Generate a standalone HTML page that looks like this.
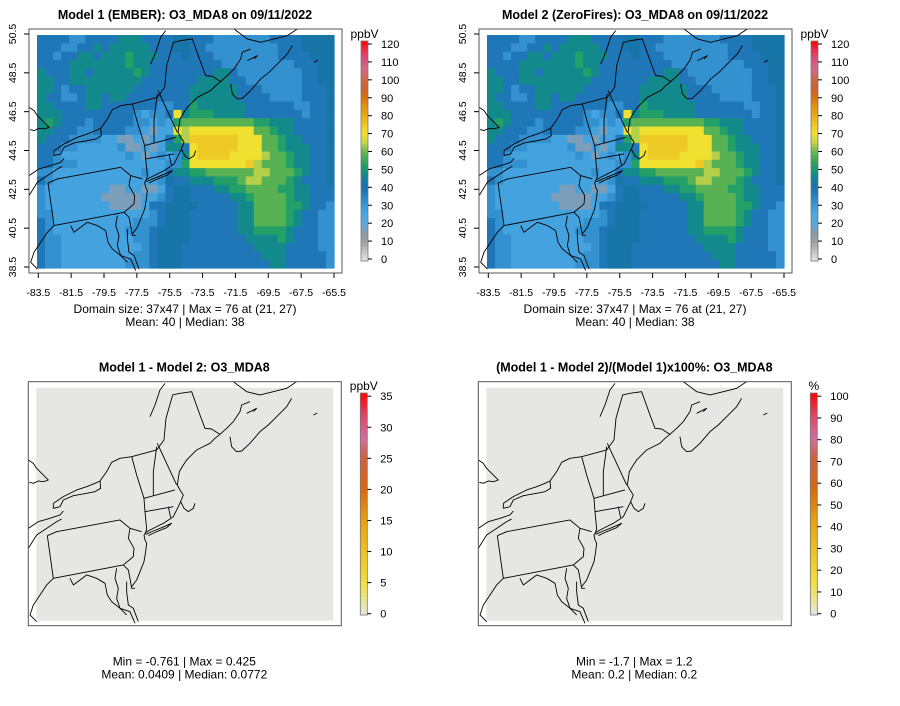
<!DOCTYPE html>
<html><head><meta charset="utf-8">
<style>
html,body{margin:0;padding:0;background:#fff;}
svg{display:block;font-family:"Liberation Sans",sans-serif;}
</style></head>
<body>
<svg id="fig" width="900" height="706" viewBox="0 0 900 706"></svg>
<script>
// ===== data =====
const lonTicks = [-83.5,-81.5,-79.5,-77.5,-75.5,-73.5,-71.5,-69.5,-67.5,-65.5];
const latTicks = [38.5,40.5,42.5,44.5,46.5,48.5,50.5];
const o3Ticks = [0,10,20,30,40,50,60,70,80,90,100,110,120];
const diffTicks = [0,5,10,15,20,25,30,35];
const pctTicks = [0,10,20,30,40,50,60,70,80,90,100];
const levelCodes = ['g','l','m','b','d','t','e','G','Y','y','o'];
const levelValues = [17,27,32,38,42,47,52,58,64,70,74];
const gridRows = [
"bbbbmmbbbbtttbbbbddbbbmmmmmmmbbbbdddd",
"bbbmmbbtbtttttbbbddbbmmmmmmmmmbbbdddd",
"bbmbbttbtttetttbbbdbbbmmmmmmmmbbbbddd",
"bbbbtttttttettbbbbbbbbbmmmmmmmmmbbbdd",
"tbbbttbtttttetbbbbbbbbttbmmmmmmmmbbdd",
"ttbbtttttttttbbbbbbbttttbbmmmmmmmbbdd",
"ttbmbbttttttbbbbbbbttttttbbbmmmmmbbbd",
"tbbmmbttbttbbbbbbbbttttttbbbbmmmmbbbd",
"ttbbbbttbbbbbbbmmbbettttttbbbbbbmmbbd",
"tttbbbbbbbbbmlmmbyteeettttbbbbbbbmbbd",
"tetbbbmbbbbbmmlmleGGGGGGGGGeetttbbbbd",
"ttbbbmmbbbbmmlgllyYyyyyyyyyGGettbbbbd",
"tbbbmmmmllgglgllbeYooooooyyyGGettbbbd",
"bbbmmlllllmgglglttbyoooooyyyGGetttbbd",
"bbmllllllllmlglmlmtyooooyyyyYGGettbbd",
"bbmmmlllllllllllmmeyyyyyyyoYGGGettbbd",
"mmlllllllllllmllbtteeGGGGGGYYGGGetbbd",
"bmlllllllllllllmdbbttteeeGYYGGGetbbbd",
"mllllllllggllgglbddbbbtteeGGGGeettbbb",
"mlllllllgggggllmbddbbbbbtteGGGGettbbb",
"mllllllllgggglbbddddbbbbbttGGGGeetbbm",
"mmllllllllllllmbdddbbbbbbttGGGGetbbmm",
"bmllllllllllmmmbdddbbbbbbttGGGGetbbmm",
"bmlllllllllmmmbddddbbbbbbtteeeetbbbmm",
"bmmlllllllllmmbddddbbbbbbbttttetbbbmm",
"bmmllllllllllmbdddbbbbbbbbbttttbbbbmm",
"bmmlllllllllmmbdddbbbbbbbbbbtttbbbbbm",
"bmmllllllllmmmbdddbbbbbbbbbbbttbbbbbm"
];
const diffValue = 0.04;
const pctValue = 0.2;
const o3StopsV = [0,5,10,15,20,25,30,35,40,45,50,55,60,65,70,75,80,85,90,95,100,105,110,115,120];
const o3StopsC = ['#e6e6e6','#c6c6c6','#a2a2a2','#8f9aa6','#5ea6d8','#4aa9e4','#3a9ad8','#2884c4','#1a6fb0','#127f9c','#129a72','#3aa858','#6cb852','#c6d648','#f0e030','#eec424','#e8a812','#e09010','#d86a10','#d06232','#cc6850','#d06a86','#d85080','#e83050','#ff0000'];
const dStopsF = [0,0.14,0.29,0.43,0.57,0.71,0.8,0.91,1];
const dStopsC = ['#e6e6e6','#f0e040','#eec024','#e8a010','#d86810','#d06040','#d070a0','#e04060','#ff0000'];

// ===== helpers =====
const NS='http://www.w3.org/2000/svg';
const svg=document.getElementById('fig');
function mk(tag,attrs,parent){const e=document.createElementNS(NS,tag);for(const k in attrs)e.setAttribute(k,attrs[k]);(parent||svg).appendChild(e);return e;}
function hex(c){return [parseInt(c.substr(1,2),16),parseInt(c.substr(3,2),16),parseInt(c.substr(5,2),16)];}
function interp(v,vs,cs){
  if(v<=vs[0])return cs[0]; if(v>=vs[vs.length-1])return cs[cs.length-1];
  for(let i=0;i<vs.length-1;i++){if(v>=vs[i]&&v<=vs[i+1]){const t=(v-vs[i])/(vs[i+1]-vs[i]);const a=hex(cs[i]),b=hex(cs[i+1]);return 'rgb('+a.map((x,j)=>Math.round(x+(b[j]-x)*t)).join(',')+')';}}
}
function codeVal(ch){const i=levelCodes.indexOf(ch);return levelValues[i<0?3:i];}

// ===== map outlines (reference-pixel coords at 3x) =====
const outlines=[
"25,255 40,265 50,280 60,290 75,305 85,315 70,320 55,318 40,325 28,322",
"100,385 130,365 170,345 200,335 225,325 240,318 242,340 225,350 200,355 160,362 130,375 120,395 100,400 100,385",
"240,318 260,290 275,262 300,250 335,245 410,225",
"25,460 55,440 90,430 120,420 130,408",
"25,520 50,480 80,460 110,440 125,432",
"82,482 110,470 300,435 330,460 365,470",
"82,482 100,610 310,570",
"310,570 340,545 342,520 325,490 330,460",
"335,245 350,300 372,370 375,410 380,462 375,478",
"372,370 465,345",
"375,410 460,395",
"445,395 452,428",
"410,215 400,290 400,362",
"412,205 470,330",
"410,225 432,195 438,130 458,60 480,55 515,50 540,120 555,160 575,162 600,178",
"600,178 585,190 570,205 550,215 530,225 515,240 500,255 490,270 478,290 472,330 480,345 490,360 482,380 492,400 505,410 520,400 525,385",
"482,380 470,405 460,425 450,432 430,445 410,455 390,465 378,472 372,480 375,495 380,505 377,530 372,560 360,590 350,615 335,635",
"378,478 400,468 425,458 455,445 440,458 410,470 385,482",
"310,570 325,585 330,610 335,640 345,640",
"320,620 320,650 325,690 340,700 355,740",
"290,580 285,610 295,640 290,670 300,700 320,720",
"150,610 160,630 200,600 230,610 255,625 262,660 275,680 300,700 330,710 345,745",
"100,610 80,630 60,660 40,690 30,720 50,740",
"390,125 405,90 420,45 435,25",
"600,178 620,160 640,140 660,110 665,90 690,80",
"640,20 680,50 720,60 760,50 800,40 830,20",
"630,185 635,215 650,230 665,228 690,205 720,170 745,150 770,125 800,95 815,70",
"680,115 710,100 700,110",
"880,120 892,114"
];

// ===== panel builder =====
function panel(ox, oy, opts){
  const g=mk('g',{transform:'translate('+ox+','+oy+')'});
  
  
  const bx0=29,bx1=342,by0=29,by1=273;
  const rx0=37,rx1=334,ry0=35,ry1=268;
  const cid='clip'+opts.id;
  const cp=mk('clipPath',{id:cid},g); mk('rect',{x:bx0,y:by0,width:bx1-bx0,height:by1-by0},cp);
  const t=mk('text',{x:185,y:19,'text-anchor':'middle','font-size':12.5,'font-weight':'bold',fill:'#000'},g);
  t.textContent=opts.title;
  
  
  const rg=mk('g',{},g);
  
  
  if(opts.raster){
    const nr=gridRows.length,nc=37;const cw=(rx1-rx0)/nc,ch=(ry1-ry0)/nr;
    for(let r=0;r<nr;r++){for(let c=0;c<nc;c++){
      const v=codeVal(gridRows[r][c]||gridRows[r][gridRows[r].length-1]);
      const cell=mk('rect',{x:(rx0+c*cw).toFixed(2),y:(ry0+r*ch).toFixed(2),width:(cw+0.6).toFixed(2),height:(ch+0.6).toFixed(2),fill:interp(v,o3StopsV,o3StopsC)},rg);
      
      
    }}
  } else {
    const c=interp(opts.flat/opts.max,dStopsF,dStopsC);
    const cell=mk('rect',{x:rx0,y:ry0,width:rx1-rx0,height:ry1-ry0,fill:c},rg);
    
    
  }
  const og=mk('g',{'clip-path':'url(#'+cid+')'},g);
  const inner=mk('g',{transform:'translate(20.7,22.3) scale(0.3333)'},og);
  
  
  outlines.forEach(p=>{const pl=mk('polyline',{points:p,fill:'none',stroke:'#000','stroke-width':0.9,'vector-effect':'non-scaling-stroke','stroke-linejoin':'round'},inner);
    
    });
  const box=mk('rect',{x:bx0,y:by0,width:bx1-bx0,height:by1-by0,fill:'none',stroke:'#555','stroke-width':1},g);
  
  
  if(opts.axes){
    const xs=lon=>38.3+(lon+83.5)*(334-38.3)/18;
    const ys=lat=>34+(50.5-lat)*(267-34)/12;
    const ax=mk('g',{},g);
    
    
    lonTicks.forEach(l=>{const x=xs(l);mk('line',{x1:x,x2:x,y1:by1,y2:by1+5,stroke:'#000'},ax);
      const tx=mk('text',{x:x,y:296,'text-anchor':'middle','font-size':10.5,fill:'#000'},ax);tx.textContent=l.toFixed(1);
      
      });
    const ay=mk('g',{},g);
    
    
    latTicks.forEach(l=>{const y=ys(l);mk('line',{x1:bx0,x2:bx0-5,y1:y,y2:y,stroke:'#000'},ay);
      const tx=mk('text',{x:0,y:0,'text-anchor':'middle','font-size':10.5,fill:'#000',transform:'translate(16,'+y+') rotate(-90)'},ay);tx.textContent=l.toFixed(1);
      
      });
  }
  opts.stats.forEach((s,i)=>{const tx=mk('text',{x:185,y:opts.statsY+i*13,'text-anchor':'middle','font-size':12,fill:'#000'},g);tx.textContent=s;
    
    });
  const cb=mk('g',{},g);
  
  
  const cx0=361,cx1=368,cy0=opts.cbTop,cy1=opts.cbBot;
  const ticks=opts.ticks, tmax=ticks[ticks.length-1];
  const n=60;
  for(let i=0;i<n;i++){
    const f=(i+0.5)/n;
    const col=opts.raster?interp(f*120,o3StopsV,o3StopsC):interp(f,dStopsF,dStopsC);
    const h=(cy1-cy0)/n;
    mk('rect',{x:cx0,y:(cy1-(i+1)*h).toFixed(2),width:cx1-cx0,height:(h+0.4).toFixed(2),fill:col},cb);
  }
  mk('rect',{x:cx0,y:cy0,width:cx1-cx0,height:cy1-cy0,fill:'none',stroke:'#777','stroke-width':0.8},cb);
  ticks.forEach(tv=>{const y=opts.tk1+(opts.tk0-opts.tk1)*(tv/tmax);
    mk('line',{x1:cx1,x2:cx1+4,y1:y,y2:y,stroke:'#000'},cb);
    const tx=mk('text',{x:cx1+13,y:y+4,'font-size':11,fill:'#000'},cb);tx.textContent=tv;
    
    });
  const un=mk('text',{x:364.5,y:cy0-3,'text-anchor':'middle','font-size':12,fill:'#000'},cb);un.textContent=opts.unit;
  
  
}

panel(0,0,{id:1,name:'panel-model1',title:'Model 1 (EMBER): O3_MDA8 on 09/11/2022',raster:true,axes:true,
  stats:['Domain size: 37x47 | Max = 76 at (21, 27)','Mean: 40 |  Median: 38'],statsY:313,
  cbTop:41,cbBot:261,tk0:44,tk1:259,ticks:o3Ticks,unit:'ppbV'});
panel(450,0,{id:2,name:'panel-model2',title:'Model 2 (ZeroFires): O3_MDA8 on 09/11/2022',raster:true,axes:true,
  stats:['Domain size: 37x47 | Max = 76 at (21, 27)','Mean: 40 |  Median: 38'],statsY:313,
  cbTop:41,cbBot:261,tk0:44,tk1:259,ticks:o3Ticks,unit:'ppbV'});
panel(-0.7,352.7,{id:3,name:'panel-difference',title:'Model 1 - Model 2: O3_MDA8',raster:false,flat:diffValue,max:35,axes:false,
  stats:['Min = -0.761 | Max = 0.425','Mean: 0.0409 |  Median: 0.0772'],statsY:313,
  cbTop:40.3,cbBot:262.3,tk0:43.5,tk1:261,ticks:diffTicks,unit:'ppbV'});
panel(449.3,352.7,{id:4,name:'panel-percent-difference',title:'(Model 1 - Model 2)/(Model 1)x100%: O3_MDA8',raster:false,flat:pctValue,max:100,axes:false,
  stats:['Min = -1.7 | Max = 1.2','Mean: 0.2 |  Median: 0.2'],statsY:313,
  cbTop:40.3,cbBot:262.3,tk0:43.5,tk1:261,ticks:pctTicks,unit:'%'});
</script>
</body></html>
